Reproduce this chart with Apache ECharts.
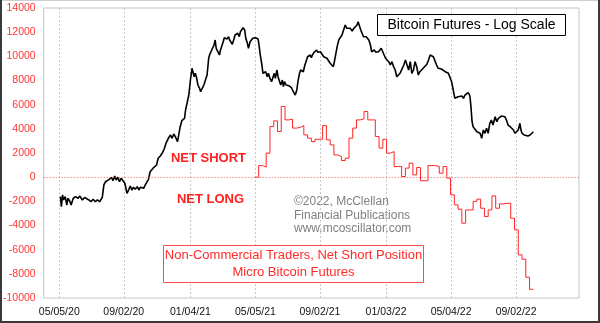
<!DOCTYPE html>
<html>
<head>
<meta charset="utf-8">
<script src="https://cdn.jsdelivr.net/npm/echarts@6/dist/echarts.min.js"></script>
<style>
html,body{margin:0;padding:0;background:#fff}
#chart{width:600px;height:323px}
</style>
</head>
<body>
<div id="chart"></div>
<script>
// Date ticks along the bottom axis
const xTickDates = ['2020-05-05','2020-09-02','2021-01-04','2021-05-05','2021-09-02','2022-01-03','2022-05-04','2022-09-02'];
const xStart = '2020-04-06';
const xEnd = '2022-12-28';

// Left axis (contracts, net short position)
const yMin = -10000;
const yMax = 14000;
const yStep = 2000;

// Bitcoin futures price (plotted on a hidden log axis)
const btcDates = [
'2020-05-07','2020-05-09','2020-05-11','2020-05-13','2020-05-16','2020-05-19','2020-05-21','2020-05-25','2020-05-27','2020-05-31',
'2020-06-04','2020-06-09','2020-06-12','2020-06-17','2020-06-21','2020-06-24','2020-06-29','2020-07-03','2020-07-07','2020-07-11',
'2020-07-15','2020-07-19','2020-07-24','2020-07-27','2020-07-30','2020-08-02','2020-08-06','2020-08-10','2020-08-13','2020-08-16',
'2020-08-19','2020-08-22','2020-08-25','2020-08-28','2020-08-31','2020-09-04','2020-09-08','2020-09-11','2020-09-14','2020-09-17',
'2020-09-20','2020-09-23','2020-09-27','2020-09-30','2020-10-03','2020-10-06','2020-10-09','2020-10-12','2020-10-15','2020-10-18',
'2020-10-21','2020-10-25','2020-10-28','2020-11-02','2020-11-05','2020-11-09','2020-11-13','2020-11-16','2020-11-20','2020-11-24',
'2020-11-28','2020-12-01','2020-12-04','2020-12-07','2020-12-11','2020-12-14','2020-12-16','2020-12-19','2020-12-24','2020-12-26',
'2020-12-30','2021-01-01','2021-01-04','2021-01-07','2021-01-09','2021-01-11','2021-01-13','2021-01-15','2021-01-18','2021-01-21',
'2021-01-23','2021-01-26','2021-01-29','2021-02-01','2021-02-04','2021-02-07','2021-02-09','2021-02-12','2021-02-14','2021-02-17',
'2021-02-19','2021-02-21','2021-02-24','2021-02-27','2021-03-01','2021-03-04','2021-03-06','2021-03-08','2021-03-11','2021-03-13',
'2021-03-16','2021-03-18','2021-03-21','2021-03-23','2021-03-26','2021-03-28','2021-03-31','2021-04-02','2021-04-05','2021-04-07',
'2021-04-10','2021-04-12','2021-04-15','2021-04-17','2021-04-20','2021-04-22','2021-04-25','2021-04-27','2021-04-30','2021-05-02',
'2021-05-05','2021-05-07','2021-05-10','2021-05-12','2021-05-14','2021-05-17','2021-05-19','2021-05-22','2021-05-24','2021-05-27',
'2021-05-29','2021-06-01','2021-06-04','2021-06-06','2021-06-09','2021-06-11','2021-06-14','2021-06-16','2021-06-19','2021-06-21',
'2021-06-24','2021-06-26','2021-06-28','2021-07-01','2021-07-04','2021-07-06','2021-07-09','2021-07-11','2021-07-13','2021-07-16',
'2021-07-18','2021-07-21','2021-07-23','2021-07-26','2021-07-28','2021-07-31','2021-08-02','2021-08-05','2021-08-07','2021-08-10',
'2021-08-12','2021-08-15','2021-08-17','2021-08-19','2021-08-22','2021-08-24','2021-08-27','2021-08-29','2021-09-01','2021-09-03',
'2021-09-06','2021-09-09','2021-09-12','2021-09-15','2021-09-18','2021-09-21','2021-09-24','2021-09-27','2021-09-30','2021-10-04',
'2021-10-07','2021-10-10','2021-10-13','2021-10-16','2021-10-19','2021-10-22','2021-10-25','2021-10-28','2021-11-01','2021-11-04',
'2021-11-07','2021-11-10','2021-11-12','2021-11-15','2021-11-17','2021-11-20','2021-11-22','2021-11-25','2021-11-27','2021-11-30',
'2021-12-02','2021-12-05','2021-12-07','2021-12-10','2021-12-12','2021-12-15','2021-12-17','2021-12-20','2021-12-22','2021-12-25',
'2021-12-27','2021-12-29','2022-01-02','2022-01-05','2022-01-08','2022-01-11','2022-01-14','2022-01-17','2022-01-20','2022-01-23',
'2022-01-26','2022-01-29','2022-02-01','2022-02-05','2022-02-08','2022-02-11','2022-02-14','2022-02-17','2022-02-20','2022-02-23',
'2022-02-26','2022-03-01','2022-03-04','2022-03-07','2022-03-10','2022-03-13','2022-03-16','2022-03-20','2022-03-23','2022-03-26',
'2022-03-29','2022-04-01','2022-04-04','2022-04-07','2022-04-10','2022-04-13','2022-04-16','2022-04-19','2022-04-23','2022-04-26',
'2022-04-29','2022-05-02','2022-05-05','2022-05-08','2022-05-11','2022-05-14','2022-05-17','2022-05-20','2022-05-24','2022-05-27',
'2022-05-30','2022-06-02','2022-06-05','2022-06-08','2022-06-10','2022-06-12','2022-06-14','2022-06-17','2022-06-21','2022-06-24',
'2022-06-27','2022-06-30','2022-07-03','2022-07-06','2022-07-09','2022-07-12','2022-07-15','2022-07-18','2022-07-21','2022-07-25',
'2022-07-28','2022-07-31','2022-08-03','2022-08-06','2022-08-09','2022-08-12','2022-08-15','2022-08-18','2022-08-22','2022-08-25',
'2022-08-28','2022-08-31','2022-09-03','2022-09-06','2022-09-09','2022-09-11','2022-09-13','2022-09-17','2022-09-20','2022-09-24',
'2022-09-28','2022-10-01','2022-10-04'
];
const btcPrices = [
9560,8535,9740,9210,9560,8700,9385,9030,8700,9385,
9560,9385,9630,9210,9480,9280,9210,9030,9280,9030,
9210,9030,9480,10910,11320,11540,11630,11900,11450,12070,
11540,11900,11320,11760,11630,11120,9930,10310,10780,10310,
10630,10390,10700,10310,10630,10780,10510,10910,11120,11630,
12670,13020,13320,13670,14750,15140,15710,16330,17590,18490,
19190,18490,19410,18820,17790,18130,21070,22550,23170,25450,
28500,30150,35720,40770,39990,37080,38530,37080,33760,32520,
31300,31900,33760,35720,37800,45650,47750,47010,51110,53050,
56130,51110,49180,47380,50140,51110,55070,57610,58270,56770,
58270,56130,55070,53470,56770,59400,58930,60550,58270,61650,
62850,64510,62850,57220,54080,51110,55070,56130,57220,58270,
57610,57610,56770,52040,47380,42320,38530,37800,39230,37080,
38530,36410,35040,36410,38530,36410,39990,37080,35040,33760,
35720,33120,35040,33760,34410,33490,33760,32740,31900,31300,
30150,31900,35040,38530,39990,40770,39230,42320,43930,46480,
45650,47380,45960,47380,48850,49180,50140,48850,49570,49180,
49180,46480,47380,45650,46480,43140,42320,41510,45650,52040,
56130,57220,59400,62850,66500,64050,62850,64050,62140,64050,
64510,66500,69030,65240,62850,61650,58270,57220,58270,57220,
56130,53050,49180,48300,50140,48850,48300,49180,48300,51110,
50140,48300,45650,46480,43930,42320,43930,41510,39990,37080,
36660,38530,38100,42320,44780,43930,39990,43930,38530,39990,
43930,41510,37800,39230,38530,40770,41510,42650,44780,47380,
48300,46480,45650,42320,40770,41050,40450,39990,39230,39540,
38530,37800,35040,31900,29050,29050,29580,29050,29810,29050,
30150,30740,30950,29810,26420,22300,21070,20700,19920,20300,
19560,18490,20300,19560,20700,19560,21900,22730,21480,23600,
22300,23170,22910,23780,24050,23600,22730,21480,21070,20700,
20300,19560,19190,20300,21900,20300,19560,19190,18820,18970,
19190,19560,19920
];
// Visible range of the hidden log axis
const logMin = 3042;
const logMax = 80585;

// Non-commercial traders, net short position, Micro Bitcoin futures (weekly)
const cotDates = [
'2021-05-04','2021-05-11','2021-05-18','2021-05-25','2021-06-01','2021-06-08','2021-06-15','2021-06-22','2021-06-29','2021-07-06',
'2021-07-13','2021-07-20','2021-07-27','2021-08-03','2021-08-10','2021-08-17','2021-08-24','2021-08-31','2021-09-07','2021-09-14',
'2021-09-21','2021-09-28','2021-10-05','2021-10-12','2021-10-19','2021-10-26','2021-11-02','2021-11-09','2021-11-16','2021-11-23',
'2021-11-30','2021-12-07','2021-12-14','2021-12-21','2021-12-28','2022-01-04','2022-01-11','2022-01-18','2022-01-25','2022-02-01',
'2022-02-08','2022-02-15','2022-02-22','2022-03-01','2022-03-08','2022-03-15','2022-03-22','2022-03-29','2022-04-05','2022-04-12',
'2022-04-19','2022-04-26','2022-05-03','2022-05-10','2022-05-17','2022-05-24','2022-05-31','2022-06-07','2022-06-14','2022-06-21',
'2022-06-28','2022-07-05','2022-07-12','2022-07-19','2022-07-26','2022-08-02','2022-08-09','2022-08-16','2022-08-23','2022-08-30',
'2022-09-06','2022-09-13','2022-09-20','2022-09-27','2022-10-04'
];
const cotNetShort = [
0,960,830,1990,4190,4660,3780,5850,4740,4800,
4060,4110,4270,3500,3230,2950,3140,3140,4270,3090,
2670,1840,1710,1380,1570,3230,4060,4740,4830,5430,
4740,4740,3370,2400,3140,1990,2120,880,880,55,
750,1160,190,800,-300,-300,960,960,880,330,
880,-80,-1460,-2290,-2650,-3810,-2710,-2710,-2000,-1820,
-2570,-3260,-2710,-1550,-2570,-2210,-2160,-2160,-3400,-4360,
-6430,-6790,-8280,-9280,-9280
];

const FONT = "'Liberation Sans', Arial, sans-serif";

function ts(s) {
  const p = s.split('-').map(Number);
  return new Date(p[0], p[1] - 1, p[2]).getTime();
}
function pad(n) { return (n < 10 ? '0' : '') + n; }
function fmtDate(v) {
  const d = new Date(v);
  return pad(d.getMonth() + 1) + '/' + pad(d.getDate()) + '/' + pad(d.getFullYear() % 100);
}

const btcData = btcDates.map((d, i) => [ts(d), btcPrices[i]]);
const cotData = cotDates.map((d, i) => [ts(d), cotNetShort[i]]);
const tickTimes = xTickDates.map(ts);

const chart = echarts.init(document.getElementById('chart'), null, { renderer: 'canvas' });

chart.setOption({
  animation: false,
  backgroundColor: '#fff',
  grid: {
    left: 43, right: 21, top: 8, bottom: 25,
    containLabel: false,
    show: true,
    borderColor: '#c4c4c4',
    borderWidth: 1,
    backgroundColor: 'transparent'
  },
  // dates as millisecond values on a linear axis
  xAxis: {
    type: 'value',
    min: ts(xStart),
    max: ts(xEnd),
    axisLine: { show: false },
    axisTick: { show: false, customValues: tickTimes },
    axisLabel: {
      customValues: tickTimes,
      formatter: fmtDate,
      color: '#111',
      fontFamily: FONT,
      fontSize: 10.5,
      margin: 9,
      hideOverlap: false
    },
    splitLine: { show: true, lineStyle: { color: '#c8c8c8', type: [2, 2], width: 1 } }
  },
  yAxis: [
    {
      type: 'value',
      min: yMin, max: yMax, interval: yStep,
      axisLine: { show: false },
      axisTick: { show: false },
      splitLine: { show: false },
      axisLabel: {
        color: '#ff3333', fontFamily: FONT, fontSize: 10.5, margin: 8,
        formatter: v => String(v)
      }
    },
    {
      type: 'log',
      logBase: 10,
      min: logMin, max: logMax,
      show: false,
      splitLine: { show: false }
    }
  ],
  series: [
    {
      name: 'Net Short',
      type: 'line',
      step: 'end',
      yAxisIndex: 0,
      data: cotData,
      showSymbol: false,
      lineStyle: { color: '#ff2424', width: 1 },
      z: 2,
      markLine: {
        silent: true,
        symbol: 'none',
        label: { show: false },
        lineStyle: { color: '#ff5a5a', type: [1, 2], width: 1 },
        data: [{ yAxis: 0 }]
      }
    },
    {
      name: 'Bitcoin Futures',
      type: 'line',
      yAxisIndex: 1,
      data: btcData,
      showSymbol: false,
      lineStyle: { color: '#000', width: 1.6 },
      z: 3
    }
  ],
  graphic: [
    { type: 'text', x: 208.5, y: 158.5, style: { text: 'NET SHORT', fill: '#ff2020', font: 'bold 13px ' + FONT, align: 'center', verticalAlign: 'middle' } },
    { type: 'text', x: 210.5, y: 199.5, style: { text: 'NET LONG', fill: '#ff2020', font: 'bold 13px ' + FONT, align: 'center', verticalAlign: 'middle' } },
    { type: 'text', x: 294, y: 202, style: { text: '\u00a92022, McClellan', fill: '#808080', font: '12px ' + FONT, align: 'left', verticalAlign: 'middle' } },
    { type: 'text', x: 294, y: 215.5, style: { text: 'Financial Publications', fill: '#808080', font: '12px ' + FONT, align: 'left', verticalAlign: 'middle' } },
    { type: 'text', x: 294, y: 229, style: { text: 'www.mcoscillator.com', fill: '#808080', font: '12px ' + FONT, align: 'left', verticalAlign: 'middle' } },
    { type: 'rect', shape: { x: 163.5, y: 245.5, width: 260, height: 37 }, style: { fill: '#fff', stroke: '#ff4a4a', lineWidth: 1 }, z: 10 },
    { type: 'text', x: 293.5, y: 255.5, z: 11, style: { text: 'Non-Commercial Traders, Net Short Position', fill: '#ff2a2a', font: '13px ' + FONT, align: 'center', verticalAlign: 'middle' } },
    { type: 'text', x: 293.5, y: 272, z: 11, style: { text: 'Micro Bitcoin Futures', fill: '#ff2a2a', font: '13px ' + FONT, align: 'center', verticalAlign: 'middle' } },
    { type: 'rect', shape: { x: 377.5, y: 14.5, width: 188, height: 21 }, style: { fill: '#fff', stroke: '#000', lineWidth: 1 }, z: 10 },
    { type: 'text', x: 471.5, y: 25.5, z: 11, style: { text: 'Bitcoin Futures - Log Scale', fill: '#000', font: '14px ' + FONT, align: 'center', verticalAlign: 'middle' } },
    // picture frame
    { type: 'rect', shape: { x: 0, y: 0, width: 600, height: 1 }, style: { fill: '#cfcfcf' }, z: 20 },
    { type: 'rect', shape: { x: 0, y: 0, width: 2, height: 323 }, style: { fill: '#3a3a3a' }, z: 20 },
    { type: 'rect', shape: { x: 598, y: 0, width: 2, height: 323 }, style: { fill: '#3a3a3a' }, z: 20 },
    { type: 'rect', shape: { x: 0, y: 321, width: 600, height: 2 }, style: { fill: '#3a3a3a' }, z: 20 }
  ]
});
</script>
</body>
</html>
